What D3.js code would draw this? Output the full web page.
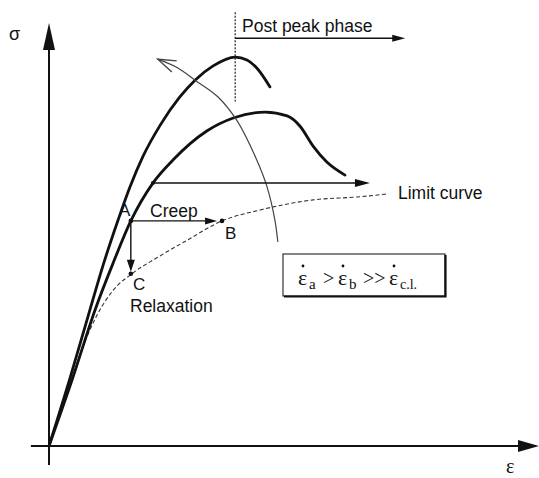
<!DOCTYPE html>
<html>
<head>
<meta charset="utf-8">
<script src="https://cdn.jsdelivr.net/npm/d3@7"></script>
<style>
  body { margin: 0; background: #fff; }
  svg text { font-family: "Liberation Sans", Arial, sans-serif; fill: #111; }
  .serif { font-family: "Liberation Serif", "Times New Roman", serif !important; }
</style>
</head>
<body>
<svg id="chart" width="539" height="478"></svg>
<script>
// strain ε (x) and stress σ (y), arbitrary units 0..100
const fastCurve = [[0, 0], [4.3, 16.2], [8.0, 31.0], [11.0, 42.9], [14.1, 53.8], [16.5, 61.6],
  [19.2, 69.0], [22.7, 76.4], [26.7, 83.1], [29.8, 87.1], [33.5, 90.5], [38.0, 92.6],
  [40.4, 91.9], [42.4, 90.0], [45.1, 85.5]];
const slowCurve = [[0, 0], [4.7, 15.7], [9.4, 32.4], [13.1, 43.6], [16.7, 53.6], [21.2, 62.6],
  [25.3, 68.1], [32.2, 75.0], [37.6, 78.1], [44.1, 79.5], [48.6, 78.6], [51.2, 76.2],
  [53.9, 71.4], [56.7, 67.6], [60.4, 64.5]];
const limitCurve = [[0, 0], [3.9, 13.3], [6.9, 23.6], [9.6, 30.7], [13.1, 37.1], [16.9, 41.0],
  [22.0, 44.8], [28.2, 49.0], [35.3, 53.6], [43.1, 56.2], [53.9, 58.6], [62.9, 59.3], [69.0, 60.0]];
const rateArc = [[46.7, 48.6], [46.1, 53.8], [44.5, 61.7], [42.4, 68.1], [38.4, 77.4],
  [34.5, 83.1], [29.8, 87.1], [26.3, 90.0], [22.2, 92.1]];

const pointA = [16.7, 53.6];
const pointB = [35.3, 53.6];
const pointC = [16.7, 41.0];
const limitArrow = [[21.2, 62.6], [65.5, 62.6]];
const peakLine = [[38.0, 103.3], [38.0, 82.0]];
const postPeakArrow = [[38.0, 97.1], [72.7, 97.1]];
const yAxisEnds = [[0, -4.5], [0, 100.7]];
const xAxisEnds = [[-3.7, 0], [100, 0]];

const svg = d3.select('#chart');
const x = d3.scaleLinear().domain([0, 100]).range([49, 539]);
const y = d3.scaleLinear().domain([0, 100]).range([446, 26]);

const smooth = d3.line().x(d => x(d[0])).y(d => y(d[1])).curve(d3.curveMonotoneX);
const line = d3.line().x(d => x(d[0])).y(d => y(d[1])).curve(d3.curveCatmullRom.alpha(0.5));

// arrow head at `to`, pointing away from `from`
function head(from, to, len, half, open) {
  const x1 = x(from[0]), y1 = y(from[1]), x2 = x(to[0]), y2 = y(to[1]);
  const a = Math.atan2(y2 - y1, x2 - x1);
  const bx = x2 - len * Math.cos(a), by = y2 - len * Math.sin(a);
  const px = -Math.sin(a) * half, py = Math.cos(a) * half;
  return open
    ? `M${bx + px},${by + py}L${x2},${y2}L${bx - px},${by - py}`
    : `M${x2},${y2}L${bx + px},${by + py}L${bx - px},${by - py}Z`;
}

function arrow(from, to, width, len, half, color) {
  const x1 = x(from[0]), y1 = y(from[1]), x2 = x(to[0]), y2 = y(to[1]);
  const a = Math.atan2(y2 - y1, x2 - x1);
  svg.append('line')
    .attr('x1', x1).attr('y1', y1)
    .attr('x2', x2 - len * 0.7 * Math.cos(a)).attr('y2', y2 - len * 0.7 * Math.sin(a))
    .attr('stroke', color).attr('stroke-width', width);
  svg.append('path').attr('d', head(from, to, len, half)).attr('fill', color);
}

// axes
arrow(yAxisEnds[0], yAxisEnds[1], 2, 27, 6, '#111');
arrow(xAxisEnds[0], xAxisEnds[1], 2, 21, 6, '#111');

// limit curve (dashed)
svg.append('path').attr('d', smooth(limitCurve))
  .attr('fill', 'none').attr('stroke', '#333').attr('stroke-width', 1.1)
  .attr('stroke-dasharray', '4,2.5');

// stress-strain curves
[fastCurve, slowCurve].forEach(c => {
  svg.append('path').attr('d', smooth(c))
    .attr('fill', 'none').attr('stroke', '#111').attr('stroke-width', 2.8)
    .attr('stroke-linecap', 'round');
});

// increasing rate arc
svg.append('path').attr('d', line(rateArc))
  .attr('fill', 'none').attr('stroke', '#444').attr('stroke-width', 1.2);
svg.append('path').attr('d', head(rateArc[rateArc.length - 2], rateArc[rateArc.length - 1], 18, 6, true))
  .attr('fill', 'none').attr('stroke', '#444').attr('stroke-width', 1.4);

// post peak
svg.append('line')
  .attr('x1', x(peakLine[0][0])).attr('y1', y(peakLine[0][1]))
  .attr('x2', x(peakLine[1][0])).attr('y2', y(peakLine[1][1]))
  .attr('stroke', '#333').attr('stroke-width', 1.3).attr('stroke-dasharray', '2,1.5');
arrow(postPeakArrow[0], postPeakArrow[1], 1.4, 13, 3.5, '#111');

// limit arrow
arrow(limitArrow[0], limitArrow[1], 1.5, 15, 4, '#111');
svg.append('circle').attr('cx', x(limitArrow[0][0])).attr('cy', y(limitArrow[0][1])).attr('r', 2).attr('fill', '#111');

// creep & relaxation
arrow(pointA, [pointB[0] - 1, pointB[1]], 1.4, 12, 3.5, '#111');
arrow(pointA, [pointC[0], pointC[1] + 0.5], 1.4, 12, 4, '#111');
[pointA, pointB, pointC].forEach(p => {
  svg.append('circle').attr('cx', x(p[0])).attr('cy', y(p[1])).attr('r', 2.3).attr('fill', '#111');
});

// labels
const labels = [
  { t: 'σ', x: 9, y: 40, s: 18 },
  { t: 'Post peak phase', x: 242, y: 32, s: 17.5 },
  { t: 'A', x: 119, y: 216, s: 17 },
  { t: 'Creep', x: 150, y: 217, s: 17.5 },
  { t: 'B', x: 225, y: 239, s: 17 },
  { t: 'C', x: 133, y: 290, s: 17 },
  { t: 'Relaxation', x: 130, y: 312, s: 17.5 },
  { t: 'Limit curve', x: 398, y: 199, s: 17.5 }
];
labels.forEach(l => {
  svg.append('text').attr('x', l.x).attr('y', l.y).attr('font-size', l.s).text(l.t);
});
svg.append('text').attr('class', 'serif').attr('x', 506).attr('y', 473).attr('font-size', 20).text('ε');

// rate box
const box = { x: 283, y: 254, w: 162, h: 42 };
svg.append('rect').attr('x', box.x).attr('y', box.y).attr('width', box.w).attr('height', box.h)
  .attr('fill', '#fff').attr('stroke', '#222').attr('stroke-width', 1.1);
svg.append('path')
  .attr('d', `M${box.x + box.w + 0.5},${box.y + 1}V${box.y + box.h + 0.5}H${box.x + 1}`)
  .attr('fill', 'none').attr('stroke', '#111').attr('stroke-width', 2.2);

const eq = svg.append('text').attr('class', 'serif').attr('y', 285);
const parts = [
  { t: 'ε', x: 298, s: 22, dot: true },
  { t: 'a', x: 309, s: 15, sub: true },
  { t: '>', x: 323, s: 20 },
  { t: 'ε', x: 338, s: 22, dot: true },
  { t: 'b', x: 349, s: 15, sub: true },
  { t: '>>', x: 363, s: 20 },
  { t: 'ε', x: 389, s: 22, dot: true },
  { t: 'c.l.', x: 400, s: 14, sub: true }
];
parts.forEach(p => {
  eq.append('tspan').attr('x', p.x).attr('y', p.sub ? 289 : 285)
    .attr('font-size', p.s).text(p.t);
  if (p.dot) {
    svg.append('circle').attr('cx', p.x + 5).attr('cy', 266).attr('r', 1.4).attr('fill', '#111');
  }
});
</script>
</body>
</html>
